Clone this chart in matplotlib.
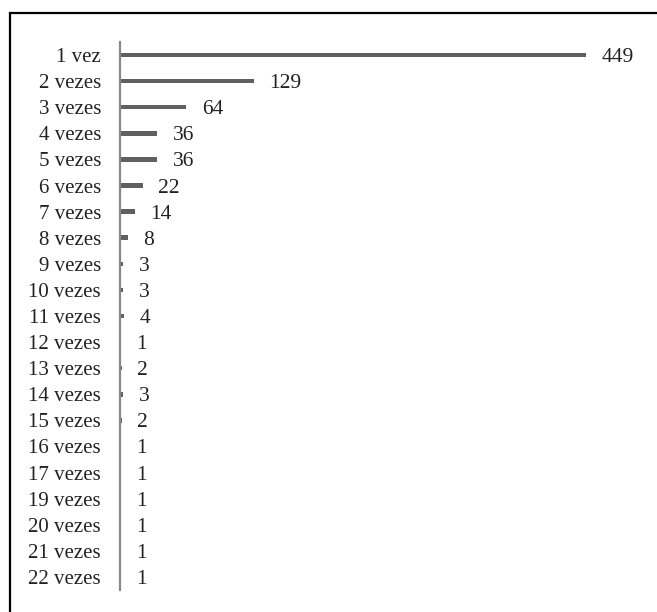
import matplotlib.pyplot as plt
from matplotlib.patches import Rectangle

# data
labels = ["1 vez", "2 vezes", "3 vezes", "4 vezes", "5 vezes", "6 vezes",
          "7 vezes", "8 vezes", "9 vezes", "10 vezes", "11 vezes", "12 vezes",
          "13 vezes", "14 vezes", "15 vezes", "16 vezes", "17 vezes",
          "19 vezes", "20 vezes", "21 vezes", "22 vezes"]
values = [449, 129, 64, 36, 36, 22, 14, 8, 3, 3, 4, 1, 2, 3, 2, 1, 1, 1, 1, 1, 1]

plt.rcParams['font.family'] = ['Liberation Serif', 'DejaVu Serif']

fig = plt.figure(figsize=(6.57, 6.12), dpi=100)
ax = fig.add_axes([120 / 657, 1 - 590 / 612, 519 / 657, 548 / 612])

n = len(labels)
pos = list(range(n))
ax.barh(pos, values, height=0.17, color="#606060")

# value labels to the right of each bar
for p, v in zip(pos, values):
    ax.annotate(str(v), (v, p), xytext=(11, 0), textcoords="offset points",
                va="center_baseline", ha="left", fontsize=15.5, color="#222222")

ax.set_yticks(pos)
ax.set_yticklabels(labels, fontsize=15, color="#222222", va="center_baseline")
ax.set_ylim(n - 0.5, -0.5)
ax.set_xlim(0, 500)
ax.tick_params(axis="y", length=0, pad=13.7)
ax.set_xticks([])

for s in ["top", "right", "bottom"]:
    ax.spines[s].set_visible(False)
ax.spines["left"].set_color("#888888")
ax.spines["left"].set_linewidth(1.6)

# outer frame (right and bottom edges fall outside the image)
fig.add_artist(Rectangle((10 / 657, -0.1), 1.0, (612 - 13) / 612 + 0.1,
                         transform=fig.transFigure, fill=False,
                         edgecolor="black", linewidth=1.6))

fig.savefig("out.png", dpi=100)
